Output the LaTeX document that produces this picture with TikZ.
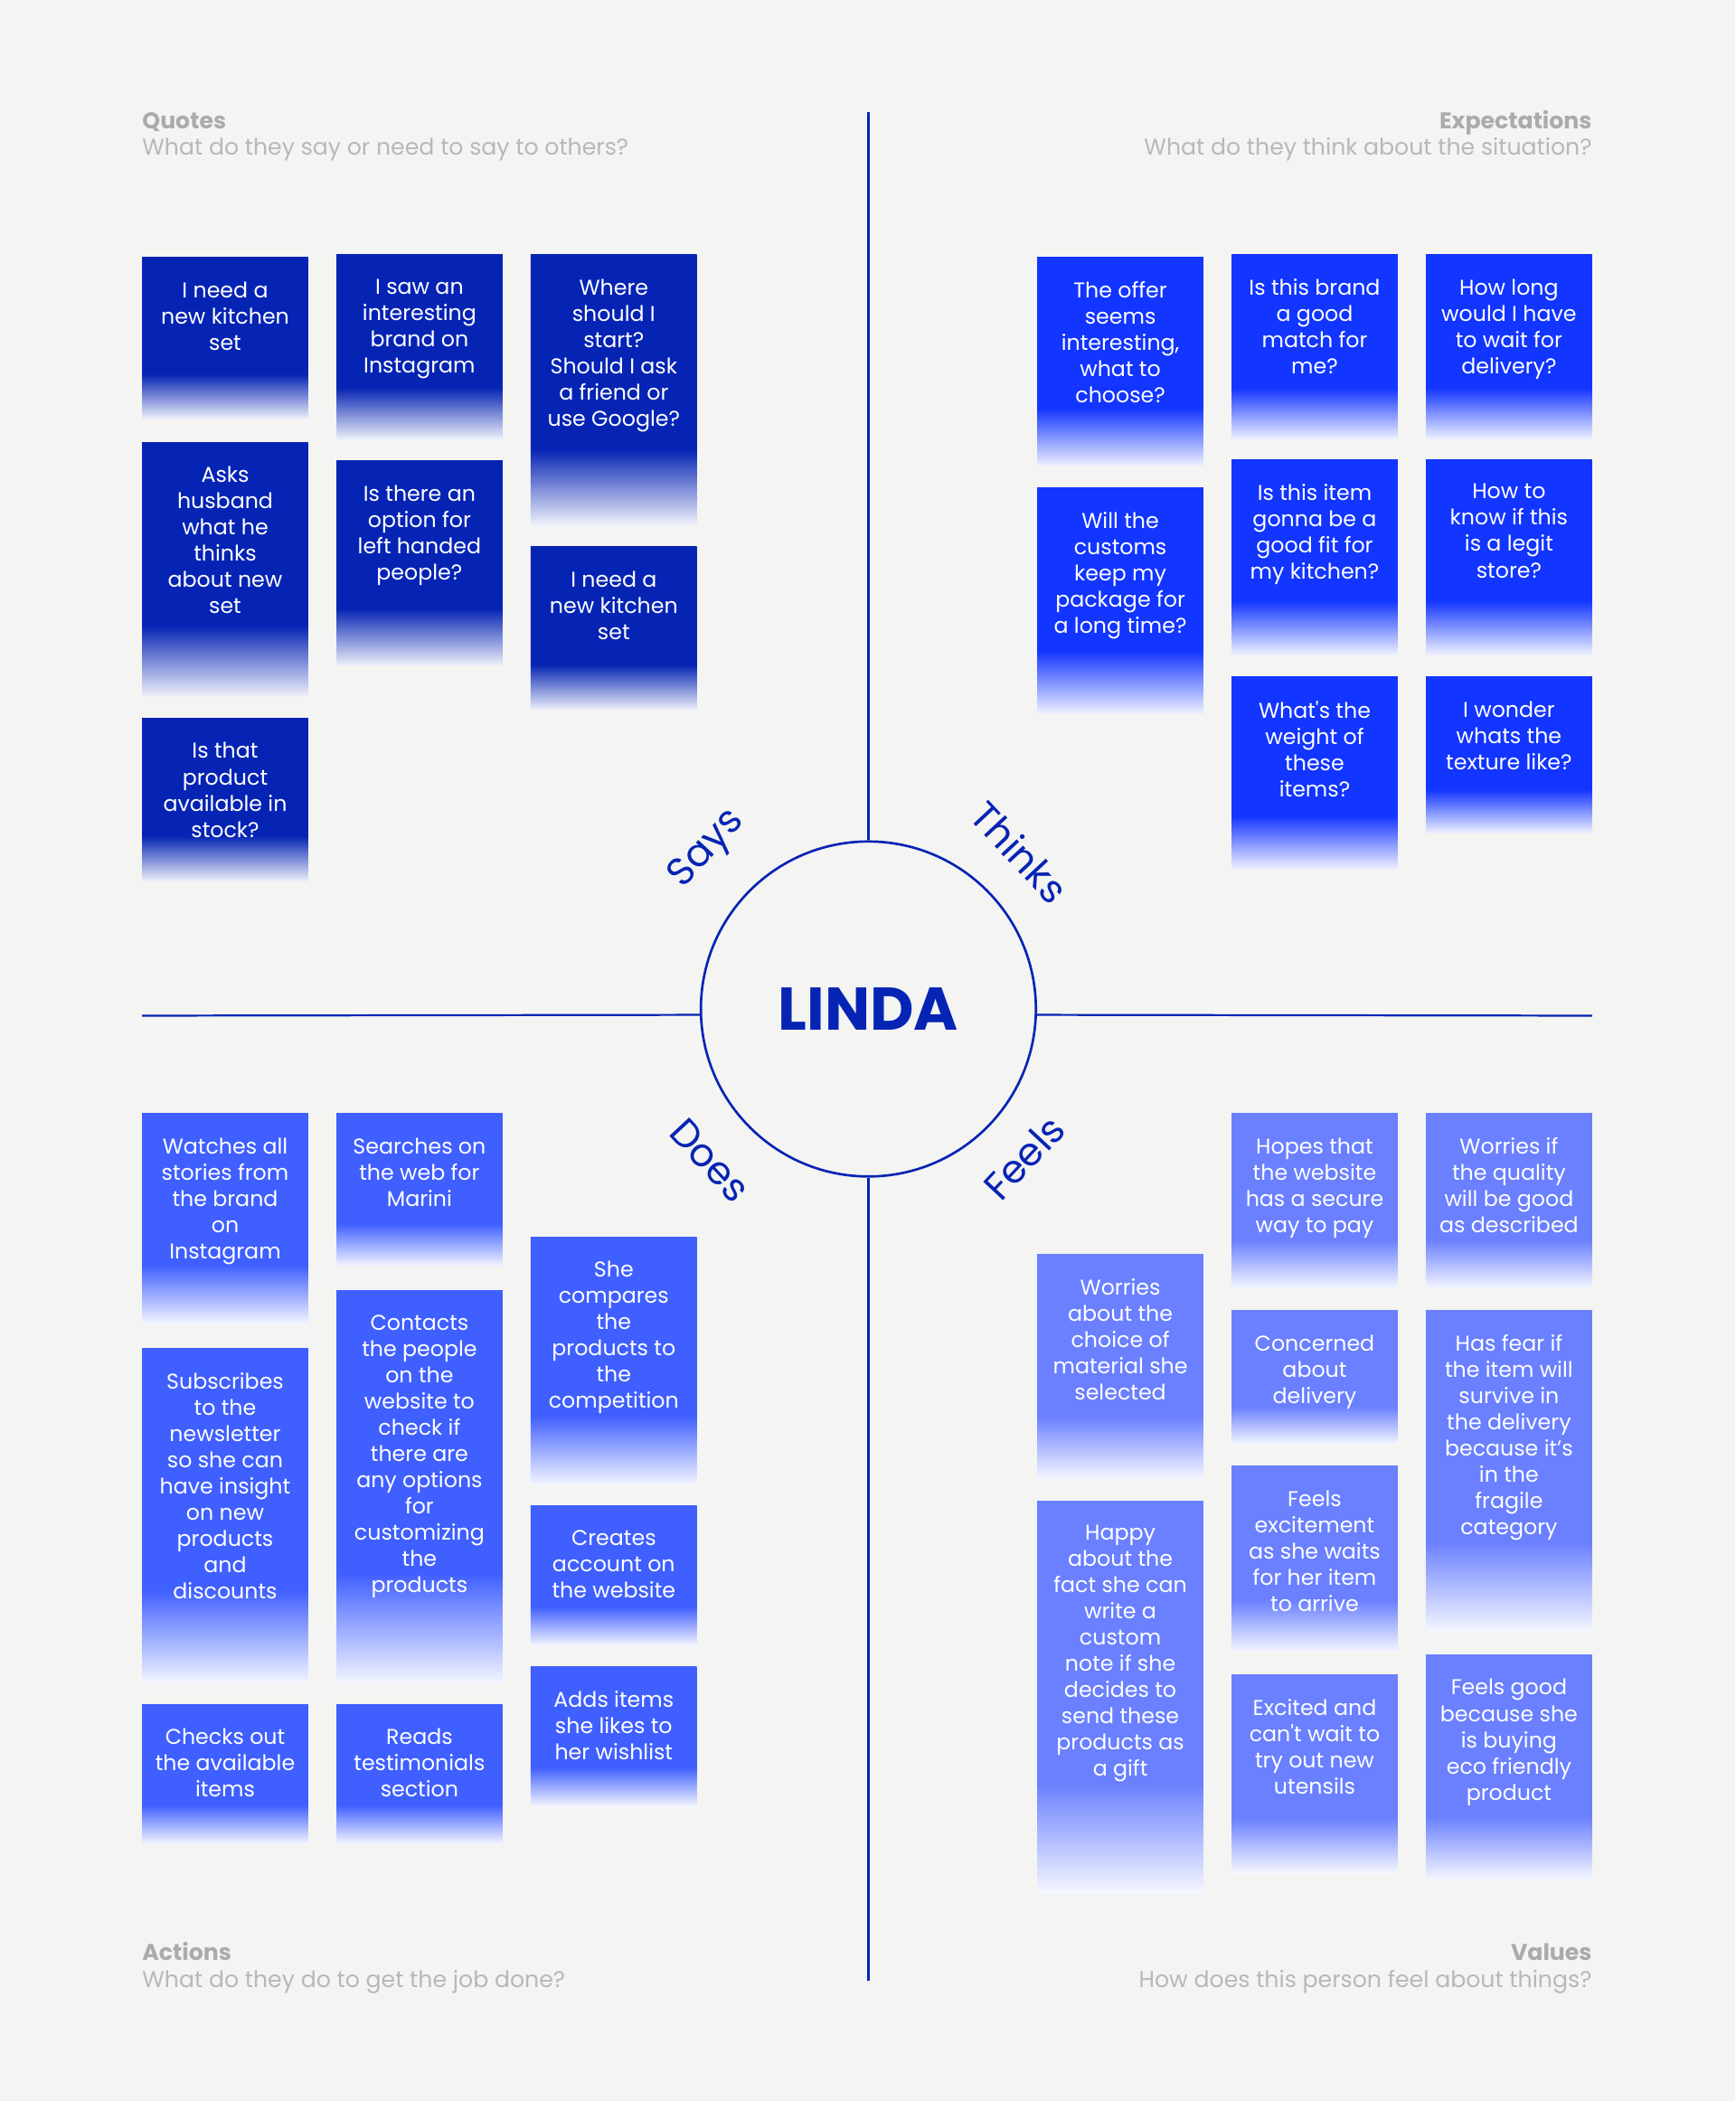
\documentclass[tikz,border=0pt]{standalone}
\usepackage{fontspec}
\setmainfont{Poppins}
\definecolor{says}{HTML}{0624B4}
\definecolor{thinks}{HTML}{1235FF}
\definecolor{does}{HTML}{3F5FFF}
\definecolor{feels}{HTML}{6A80FF}
\definecolor{paper}{HTML}{F4F4F2}
\definecolor{hint}{HTML}{ABABAB}
\colorlet{saysend}{white!94!says}
\colorlet{thinksend}{white!94!thinks}
\colorlet{doesend}{white!94!does}
\colorlet{feelsend}{white!94!feels}
% cards fade out over their lower quarter
\pgfdeclareverticalshading{saysfade}{100bp}{color(0bp)=(saysend); color(25bp)=(saysend); color(39bp)=(says); color(100bp)=(says)}
\pgfdeclareverticalshading{thinksfade}{100bp}{color(0bp)=(thinksend); color(25bp)=(thinksend); color(39bp)=(thinks); color(100bp)=(thinks)}
\pgfdeclareverticalshading{doesfade}{100bp}{color(0bp)=(doesend); color(25bp)=(doesend); color(39bp)=(does); color(100bp)=(does)}
\pgfdeclareverticalshading{feelsfade}{100bp}{color(0bp)=(feelsend); color(25bp)=(feelsend); color(39bp)=(feels); color(100bp)=(feels)}

\begin{document}
\begin{tikzpicture}[x=1pt,y=-1pt,
    card/.style={rectangle,anchor=north,minimum width=124pt,inner sep=0pt,outer sep=0pt},
    cardtext/.style={anchor=north,align=center,inner sep=0pt,text=white,font=\fontsize{16}{19.6}\selectfont},
    head/.style={inner sep=0pt,text=hint,font=\fontsize{17}{20}\selectfont\bfseries},
    sub/.style={inner sep=0pt,text=hint!85!white,font=\fontsize{17}{20}\selectfont},
    side/.style={text=says,font=\fontsize{29}{29}\selectfont}]
  \fill[paper] (0,0) rectangle (1295,1568);
  \useasboundingbox (0,0) rectangle (1295,1568);

  % Corner captions.
  \node[head,anchor=base west] (qh) at (106,96) {Quotes};
  \node[sub,anchor=base west] (qs) at (106,116) {What do they say or need to say to others?};
  \node[head,anchor=base east] (eh) at (1188,96) {Expectations};
  \node[sub,anchor=base east] (es) at (1188,116) {What do they think about the situation?};
  \node[head,anchor=base west] (ah) at (106,1463) {Actions};
  \node[sub,anchor=base west] (as) at (106,1483) {What do they do to get the job done?};
  \node[head,anchor=base east] (vh) at (1188,1463) {Values};
  \node[sub,anchor=base east] (vs) at (1188,1483) {How does this person feel about things?};

  % Centre and axes.
  \node[circle,draw=says,line width=1.8pt,minimum size=250pt,inner sep=0pt,
        text=says,font=\fontsize{45}{45}\selectfont\bfseries] (linda) at (648,753) {LINDA};
  \coordinate (vtop) at (648,84);
  \coordinate (vbot) at (648,1478);
  \coordinate (hleft) at (106,758);
  \coordinate (hright) at (1188,758);
  \draw[says,line width=1.5pt] (vtop) -- (linda.north);
  \draw[says,line width=1.5pt] (linda.south) -- (vbot);
  \draw[says,line width=1.5pt] (hleft) -- (linda.182);
  \draw[says,line width=1.5pt] (linda.-2) -- (hright);
  \node[side,rotate=47] (says) at (528,634) {Says};
  \node[side,rotate=-47] (thinks) at (761,636) {Thinks};
  \node[side,rotate=-47] (does) at (530,866) {Does};
  \node[side,rotate=47] (feels) at (764,864) {Feels};

  % Says.
  \foreach \cx/\ty/\by/\txt [count=\i] in {
      168/192/313/{I need a\\new kitchen\\set},
      313/190/328/{I saw an\\interesting\\brand on\\Instagram},
      458/190/392/{Where\\should I\\start?\\Should I ask\\a friend or\\use Google?},
      168/330/520/{Asks\\husband\\what he\\thinks\\about new\\set},
      313/344/497/{Is there an\\option for\\left handed\\people?},
      458/408/530/{I need a\\new kitchen\\set},
      168/536/658/{Is that\\product\\available in\\stock?}}{
    \node[card,shading=saysfade,minimum height={\by-\ty}] (s\i) at (\cx,\ty) {};
    \node[cardtext] (st\i) at ([yshift=-18pt]s\i.north) {\txt};
  }

  % Thinks.
  \foreach \cx/\ty/\by/\txt [count=\i] in {
      836/192/348/{The offer\\seems\\interesting,\\what to\\choose?},
      981/190/328/{Is this brand\\a good\\match for\\me?},
      1126/190/328/{How long\\would I have\\to wait for\\delivery?},
      836/364/533/{Will the\\customs\\keep my\\package for\\a long time?},
      981/343/489/{Is this item\\gonna be a\\good fit for\\my kitchen?},
      1126/343/489/{How to\\know if this\\is a legit\\store?},
      981/505/649/{What\textquotesingle s the\\weight of\\these\\items?},
      1126/505/622/{I wonder\\whats the\\texture like?}}{
    \node[card,shading=thinksfade,minimum height={\by-\ty}] (t\i) at (\cx,\ty) {};
    \node[cardtext] (tt\i) at ([yshift=-18pt]t\i.north) {\txt};
  }

  % Does.
  \foreach \cx/\ty/\by/\txt [count=\i] in {
      168/831/988/{Watches all\\stories from\\the brand\\on\\Instagram},
      313/831/945/{Searches on\\the web for\\Marini},
      458/923/1108/{She\\compares\\the\\products to\\the\\competition},
      168/1006/1256/{Subscribes\\to the\\newsletter\\so she can\\have insight\\on new\\products\\and\\discounts},
      313/963/1256/{Contacts\\the people\\on the\\website to\\check if\\there are\\any options\\for\\customizing\\the\\products},
      458/1124/1228/{Creates\\account on\\the website},
      458/1244/1348/{Adds items\\she likes to\\her wishlist},
      168/1272/1376/{Checks out\\the available\\items},
      313/1272/1376/{Reads\\testimonials\\section}}{
    \node[card,shading=doesfade,minimum height={\by-\ty}] (d\i) at (\cx,\ty) {};
    \node[cardtext] (dt\i) at ([yshift=-18pt]d\i.north) {\txt};
  }

  % Feels.
  \foreach \cx/\ty/\by/\txt [count=\i] in {
      836/936/1104/{Worries\\about the\\choice of\\material she\\selected},
      981/831/962/{Hopes that\\the website\\has a secure\\way to pay},
      1126/831/962/{Worries if\\the quality\\will be good\\as described},
      981/978/1078/{Concerned\\about\\delivery},
      1126/978/1218/{Has fear if\\the item will\\survive in\\the delivery\\because it’s\\in the\\fragile\\category},
      836/1120/1413/{Happy\\about the\\fact she can\\write a\\custom\\note if she\\decides to\\send these\\products as\\a gift},
      981/1094/1233/{Feels\\excitement\\as she waits\\for her item\\to arrive},
      981/1250/1398/{Excited and\\can\textquotesingle t wait to\\try out new\\utensils},
      1126/1235/1403/{Feels good\\because she\\is buying\\eco friendly\\product}}{
    \node[card,shading=feelsfade,minimum height={\by-\ty}] (f\i) at (\cx,\ty) {};
    \node[cardtext] (ft\i) at ([yshift=-18pt]f\i.north) {\txt};
  }
\end{tikzpicture}
\end{document}
